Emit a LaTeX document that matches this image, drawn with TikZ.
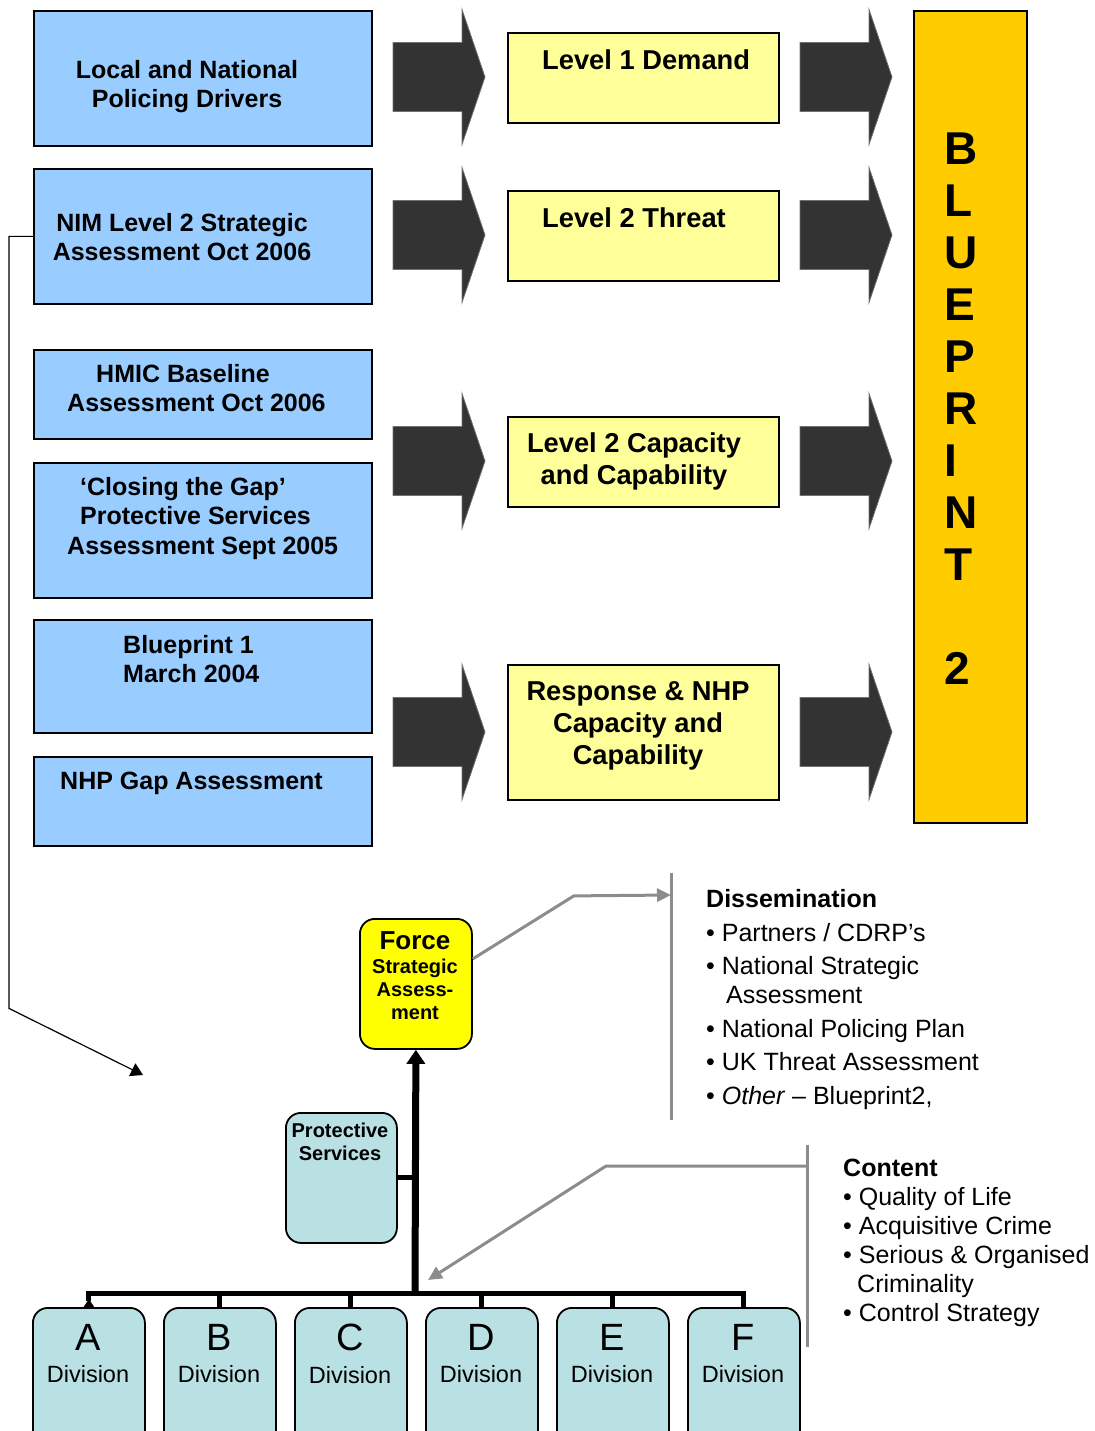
\documentclass[tikz,border=0pt]{standalone}
\usepackage{fontspec}
\setmainfont{Liberation Sans}
\usetikzlibrary{arrows.meta}

\definecolor{inblue}{HTML}{99CCFF}
\definecolor{levyellow}{HTML}{FFFF99}
\definecolor{bpgold}{HTML}{FFCC00}
\definecolor{arrowgrey}{HTML}{333333}
\definecolor{fsayellow}{HTML}{FFFF00}
\definecolor{divteal}{HTML}{B9E0E3}
\definecolor{linkgrey}{HTML}{8C8C8C}

\begin{document}
\begin{tikzpicture}[x=1pt,y=-1pt]
    \tikzstyle{srcbox} = [draw, fill=inblue, rectangle, anchor=north west, minimum width=338pt, inner sep=0pt, line width=1.8pt];
    \tikzstyle{lvlbox} = [draw, fill=levyellow, rectangle, anchor=north west, minimum width=271pt, inner sep=0pt, line width=1.8pt];
    \tikzstyle{orgbox} = [draw, rectangle, rounded corners=15pt, anchor=north west, inner sep=0pt, line width=1.8pt];
    \tikzstyle{srctext} = [inner sep=0pt, align=center, anchor=north, font=\fontsize{25}{29.5}\selectfont\bfseries];
    \tikzstyle{lvltext} = [inner sep=0pt, align=center, anchor=north, font=\fontsize{27.3}{32}\selectfont\bfseries];
    \tikzstyle{orgtext} = [inner sep=0pt, align=center, anchor=north, font=\fontsize{20}{23}\selectfont\bfseries];
    \tikzstyle{divtext} = [inner sep=0pt, align=center, anchor=north, font=\fontsize{23.5}{32.5}\selectfont];
    \tikzstyle{listtext} = [inner sep=0pt, align=left, anchor=north west, font=\fontsize{25}{29}\selectfont];
    \tikzstyle{bigarrow} = [fill=arrowgrey, draw=arrowgrey!70!white, line width=0.8pt];
    \tikzstyle{treeline} = [draw, line width=5pt];
    \tikzstyle{greylink} = [draw=linkgrey, line width=3pt];

    \useasboundingbox (0,0) rectangle (1094,1431);
    \clip (0,0) rectangle (1094,1431);

    % inputs
    \node[srcbox, minimum height=135pt] (drivers) at (33,10) {};
    \node[srcbox, minimum height=135pt] (nim) at (33,168) {};
    \node[srcbox, minimum height=89pt] (hmic) at (33,349) {};
    \node[srcbox, minimum height=135pt] (gap) at (33,462) {};
    \node[srcbox, minimum height=113pt] (bp1) at (33,619) {};
    \node[srcbox, minimum height=89pt] (nhpgap) at (33,756) {};
    \node[srctext] (driverstxt) at (187,60) {Local and National\\Policing Drivers};
    \node[srctext] (nimtxt) at (182,213) {NIM Level 2 Strategic\\Assessment Oct 2006};
    \node[srctext, align=left, anchor=north west] (hmictxt) at (67,364) {\hspace*{29pt}HMIC Baseline\\Assessment Oct 2006};
    \node[srctext, align=left, anchor=north west] (gaptxt) at (67,477) {\hspace*{13pt}‘Closing the Gap’\\\hspace*{13pt}Protective Services\\Assessment Sept 2005};
    \node[srctext, align=left, anchor=north west] (bp1txt) at (123,635) {Blueprint 1\\March 2004};
    \node[srctext, anchor=north west] (nhpgaptxt) at (60,772) {NHP Gap Assessment};

    % levels
    \node[lvlbox, minimum height=90pt] (demand) at (507,32) {};
    \node[lvlbox, minimum height=90pt] (threat) at (507,190) {};
    \node[lvlbox, minimum height=90pt] (capacity) at (507,416) {};
    \node[lvlbox, minimum height=135pt] (response) at (507,664) {};
    \node[lvltext, anchor=north west] (demandtxt) at (542,50) {Level 1 Demand};
    \node[lvltext, anchor=north west] (threattxt) at (542,208) {Level 2 Threat};
    \node[lvltext] (capacitytxt) at (634,433) {Level 2 Capacity\\and Capability};
    \node[lvltext] (responsetxt) at (638,681) {Response \& NHP\\Capacity and\\Capability};

    % blueprint
    \node[draw, fill=bpgold, rectangle, anchor=north west, minimum width=113pt, minimum height=812pt, line width=1.8pt] (blueprint) at (913,10) {};
    \node[inner sep=0pt, align=left, anchor=north west, font=\fontsize{46}{52}\selectfont\bfseries] (blueprinttxt) at (944,133) {B\\L\\U\\E\\P\\R\\I\\N\\T\\[52pt]2};

    \foreach \y in {77,235,461,732}
        \foreach \x in {393,800}
            \filldraw[bigarrow] (\x,\y-34.5) -- ++(69,0) -- ++(0,-33) -- (\x+92,\y) -- (\x+69,\y+67.5) -- ++(0,-33) -- (\x,\y+34.5) -- cycle;

    % force structure
    \node[orgbox, fill=fsayellow, minimum width=112pt, minimum height=130pt] (force) at (359,918) {};
    \node[orgtext] (forcetxt) at (415,931) {{\fontsize{26}{28}\selectfont Force}\\[1.5pt]Strategic\\Assess-\\ment};
    \node[orgbox, fill=divteal, minimum width=111pt, minimum height=130pt] (prot) at (285,1112) {};
    \node[orgtext] (prottxt) at (340,1123) {Protective\\Services};
    \foreach \dv [count=\i from 0] in {A,B,C,D,E,F} {
        \node[orgbox, fill=divteal, minimum width=112pt, minimum height=150pt] (div\dv) at (32+131*\i,1307) {};
        \node[divtext] (divtxt\dv) at (88+131*\i,1324) {{\fontsize{38}{40}\selectfont \dv}\\Division};
    }

    \coordinate (hub) at (415,1293);
    \draw[treeline, line width=7pt, -{Triangle[length=14pt,width=18pt]}] (hub) -- (force.south);
    \draw[treeline, {Triangle[reversed,length=8pt,width=10pt]}-] (divA.north) -- (divA.north |- hub) -- (divF.north |- hub) -- (divF.north);
    \foreach \dv in {B,C,D,E}
        \draw[treeline] (div\dv.north) -- (div\dv.north |- hub);
    \draw[treeline] (prot.east) -- (prot.east -| hub);

    % dissemination and content
    \coordinate (dissbar) at (671,873);
    \coordinate (contbar) at (807,1145);
    \coordinate (treetarget) at (428,1280);
    \coordinate (nimlink) at (143,1075);
    \draw[greylink] (dissbar) -- ++(0,247);
    \draw[greylink] (contbar) -- ++(0,202);
    \draw[greylink, -{Triangle[length=14pt,width=13pt]}] ([yshift=25pt]force.east) -- ++(101,-63) -- (dissbar |- 0,895);
    \draw[greylink, -{Triangle[length=14pt,width=13pt]}] (contbar |- 0,1166) -- ++(-201,0) -- (treetarget);
    \draw[line width=1.2pt, -{Triangle[length=12pt,width=14pt]}] (nim.west) -- ++(-24,0) -- ++(0,772) -- (nimlink);

    \node[listtext] (dissem) at (706,889) {\textbf{Dissemination}\\[5pt]
        • Partners / CDRP’s\\[4pt]
        • National Strategic\\
        \hspace*{20pt}Assessment\\[5pt]
        • National Policing Plan\\[4pt]
        • UK Threat Assessment\\[5pt]
        • \textit{Other} – Blueprint2,};
    \node[listtext] (content) at (843,1159) {\textbf{Content}\\
        • Quality of Life\\
        • Acquisitive Crime\\
        • Serious \& Organised\\
        \hspace*{14pt}Criminality\\
        • Control Strategy};
\end{tikzpicture}
\end{document}
